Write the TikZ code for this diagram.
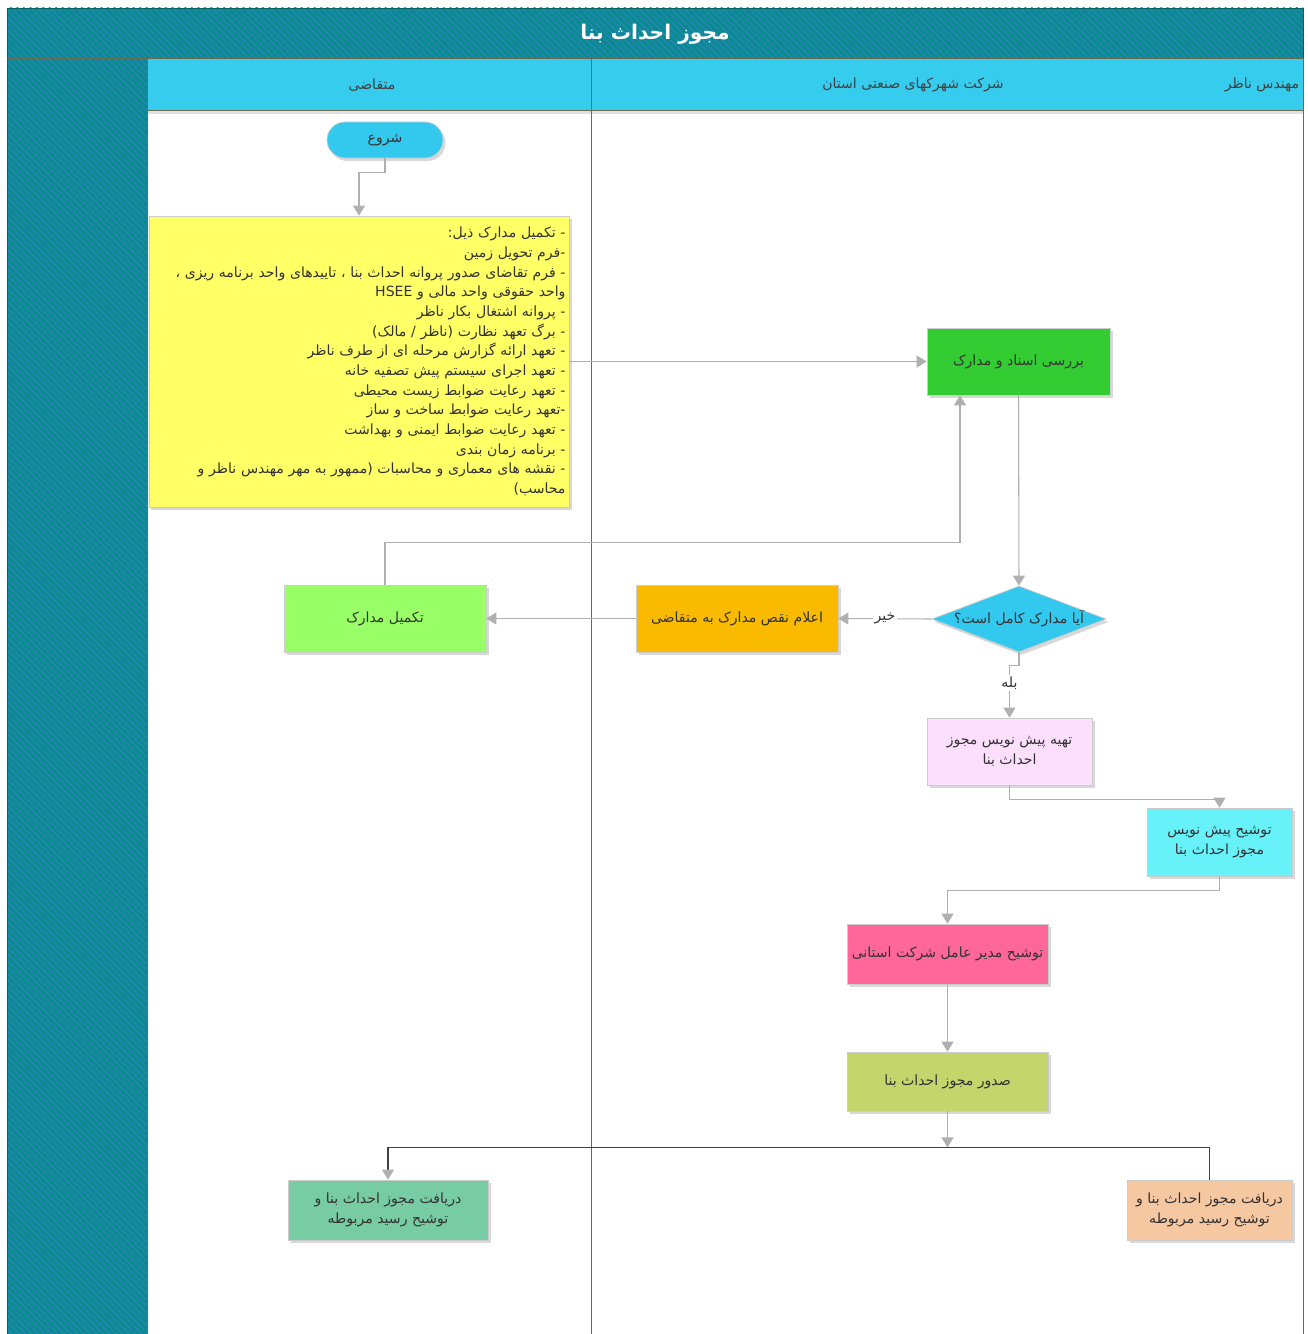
\documentclass[tikz,border=0pt]{standalone}
\usepackage{fontspec}
\newfontfamily\fa[Script=Arabic]{DejaVu Sans}
\TeXXeTstate=1
\usetikzlibrary{shapes.geometric,arrows.meta,patterns.meta,shadows}
\newcommand{\rl}[1]{\beginR #1\endR}

\definecolor{bandteal}{HTML}{078C8C}
\definecolor{bandstripe}{HTML}{2C80BC}
\definecolor{headcyan}{HTML}{36CCEE}
\definecolor{laneline}{HTML}{6B6B4F}
\definecolor{arrowgray}{HTML}{B0B0B0}
\definecolor{startcyan}{HTML}{33C8EE}
\definecolor{docyellow}{HTML}{FFFF66}
\definecolor{reviewgreen}{HTML}{33CC33}
\definecolor{notifyorange}{HTML}{F9BA00}
\definecolor{completegreen}{HTML}{99FF66}
\definecolor{draftpink}{HTML}{FCDFFC}
\definecolor{signcyan}{HTML}{66F2F8}
\definecolor{signpink}{HTML}{FF6699}
\definecolor{issueolive}{HTML}{C4D66B}
\definecolor{recvgreen}{HTML}{77CCA4}
\definecolor{recvpeach}{HTML}{F6C8A2}

\begin{document}
\begin{tikzpicture}[x=0.2mm,y=-0.2mm,
  proc/.style={draw=black!20, text=black!80, align=center, inner sep=1pt,
    font=\fa\fontsize{8}{11}\selectfont,
    drop shadow={shadow xshift=0.5mm,shadow yshift=-0.6mm,fill=black!30}},
  flow/.style={draw=arrowgray, semithick, -{Triangle[width=2.4mm,length=2mm]}},
  band/.style={preaction={fill=bandteal}, pattern={Lines[angle=-45,distance=2.6pt,line width=0.75pt]}, pattern color=bandstripe},
  lane/.style={draw=laneline, thin},
  tag/.style={fill=white, inner sep=1pt, text=black!80, font=\fa\fontsize{8}{10}\selectfont}]
\useasboundingbox (0,0) rectangle (1308,1334);
\fill[white] (0,0) rectangle (1308,1334);

% Title and lane headers
\fill[band] (7,8) rectangle (1303,58);
\fill[band] (7,58) rectangle (147,1334);
\fill[headcyan] (147,58) rectangle (1303,110);
\fill[black!12] (147,110) rectangle (1303,114);
\node[text=white, font=\fa\bfseries\fontsize{11.5}{13}\selectfont] (title) at (655,34) {\rl{مجوز احداث بنا}};
\node[text=black!75, font=\fa\fontsize{8}{10}\selectfont] (applicant) at (372,85) {\rl{متقاضی}};
\node[text=black!75, font=\fa\fontsize{8}{10}\selectfont] (company) at (913,85) {\rl{شرکت شهرکهای صنعتی استان}};
\node[text=black!75, font=\fa\fontsize{8}{10}\selectfont] (engineer) at (1262,85) {\rl{مهندس ناظر}};

% Lane lines
\draw[draw=bandteal!70!black, thin] (7,1334) -- (7,8) -- (1303,8) -- (1303,58);
\draw[lane] (7,58) -- (1303,58);
\draw[lane] (147,58) -- (147,1334);
\draw[lane] (591,58) -- (591,1334);
\draw[lane] (1303,58) -- (1303,1334);
\draw[lane] (147,110) -- (1303,110);

% Steps
\node[proc, fill=startcyan, rounded corners=3.6mm, minimum width=23.2mm, minimum height=7.2mm] (start) at (385,140) {\rl{شروع}};
\node[proc, fill=docyellow, minimum width=84mm, minimum height=58.2mm, text width=82.6mm, align=right, font=\fa\fontsize{8}{11.2}\selectfont] (docs) at (359,361.5) {%
  \rl{- تکمیل مدارک ذیل:}\\
  \rl{-فرم تحویل زمین}\\
  \rl{- فرم تقاضای صدور پروانه احداث بنا ، تاییدهای واحد برنامه ریزی ،}\\
  \rl{واحد حقوقی واحد مالی و \beginL HSEE\endL}\\
  \rl{- پروانه اشتغال بکار ناظر}\\
  \rl{- برگ تعهد نظارت  (ناظر / مالک)}\\
  \rl{- تعهد ارائه گزارش مرحله ای از طرف ناظر}\\
  \rl{- تعهد اجرای سیستم پیش تصفیه خانه}\\
  \rl{- تعهد رعایت ضوابط زیست محیطی}\\
  \rl{-تعهد رعایت ضوابط ساخت و ساز}\\
  \rl{- تعهد رعایت ضوابط ایمنی و بهداشت}\\
  \rl{- برنامه زمان بندی}\\
  \rl{- نقشه های معماری و محاسبات  (ممهور به مهر مهندس ناظر و}\\
  \rl{محاسب)}};
\node[proc, fill=reviewgreen, minimum width=36.6mm, minimum height=13.4mm] (review) at (1018.5,361.5) {\rl{بررسی اسناد و مدارک}};
\node[proc, diamond, fill=startcyan, minimum width=34.8mm, minimum height=13.2mm, inner sep=0pt] (check) at (1019,619) {};
\node[text=black!80, font=\fa\fontsize{8}{10}\selectfont, inner sep=0pt] (checktext) at (check.center) {\beginR آیا مدارک کامل است؟\endR};
\node[proc, fill=notifyorange, minimum width=40.4mm, minimum height=13.4mm] (notify) at (737,618.5) {\rl{اعلام نقص مدارک به متقاضی}};
\node[proc, fill=completegreen, minimum width=40.4mm, minimum height=13.4mm] (complete) at (385,618.5) {\rl{تکمیل مدارک}};
\node[proc, fill=draftpink, minimum width=33mm, minimum height=13.4mm] (draft) at (1009.5,751.5) {\rl{تهیه پیش نویس مجوز}\\\rl{احداث بنا}};
\node[proc, fill=signcyan, minimum width=29mm, minimum height=13.6mm] (sign1) at (1219.5,842) {\rl{توشیح پیش نویس}\\\rl{مجوز احداث بنا}};
\node[proc, fill=signpink, minimum width=40.2mm, minimum height=12mm] (sign2) at (947.5,954) {\rl{توشیح مدیر عامل شرکت استانی}};
\node[proc, fill=issueolive, minimum width=40.2mm, minimum height=11.8mm] (issue) at (947.5,1081.5) {\rl{صدور مجوز احداث بنا}};
\node[proc, fill=recvgreen, minimum width=40mm, minimum height=12mm] (recv1) at (388,1210) {\rl{دریافت مجوز  احداث بنا و}\\\rl{توشیح رسید مربوطه}};
\node[proc, fill=recvpeach, minimum width=33mm, minimum height=12mm] (recv2) at (1209.5,1210) {\rl{دریافت مجوز احداث بنا و}\\\rl{توشیح رسید مربوطه}};

% Connectors
\draw[flow] (start.south) -- ++(0,14) -| (docs.north);
\draw[flow] (docs.east) -- (review.west);
\draw[flow] (review.south) -- (check.north);
\draw[flow] (check.west) -- (notify.east) node[tag, midway] {\rl{خیر}};
\draw[flow] (notify.west) -- (complete.east);
\draw[flow] (complete.north) -- ++(0,-42) -| ([xshift=-11.7mm]review.south);
\draw[flow] (check.south) -- ++(0,13) -| (draft.north) node[tag, pos=0.67] {\rl{بله}};
\draw[flow] (draft.south) -- ++(0,14) -| (sign1.north);
\draw[flow] (sign1.south) -- ++(0,14) -| (sign2.north);
\draw[flow] (sign2.south) -- (issue.north);
\coordinate (split) at ([yshift=-7.2mm]issue.south);
\draw[flow] (issue.south) -- (split);
\draw[black!75, semithick] (recv2.north) |- (recv1.north |- split);
\draw[black!75, semithick, -{Triangle[width=2.4mm,length=2mm,color=arrowgray]}] (recv1.north |- split) -- (recv1.north);

\end{tikzpicture}
\end{document}
